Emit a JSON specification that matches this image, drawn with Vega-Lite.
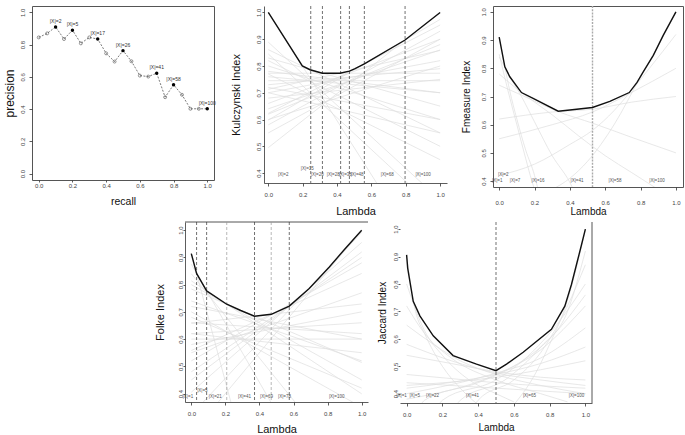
{
"$schema":"https://vega.github.io/schema/vega-lite/v6.json",
"padding":{"left":2,"top":4,"right":0,"bottom":0},
"background":"white",
"config":{"font":"Liberation Sans","view":{"stroke":null},
 "axis":{"labelFont":"Liberation Sans","titleFont":"Liberation Sans","titleFontWeight":"normal","labelFontSize":6,"labelColor":"#444","tickColor":"#333","domainColor":"#333","domainWidth":0.8,"tickWidth":0.8,"grid":false,"titleColor":"#111","labelFlush":false,"labelOverlap":false},
 "text":{"font":"Liberation Sans"}},
"datasets":{
 "pr":[{"recall":0,"precision":0.845,"f":false,"t":""},{"recall":0.05,"precision":0.87,"f":false,"t":""},{"recall":0.1,"precision":0.91,"f":true,"t":"|X|=2"},{"recall":0.15,"precision":0.835,"f":false,"t":""},{"recall":0.2,"precision":0.89,"f":true,"t":"|X|=5"},{"recall":0.25,"precision":0.808,"f":false,"t":""},{"recall":0.3,"precision":0.845,"f":false,"t":""},{"recall":0.35,"precision":0.835,"f":true,"t":"|X|=17"},{"recall":0.4,"precision":0.746,"f":false,"t":""},{"recall":0.45,"precision":0.695,"f":false,"t":""},{"recall":0.5,"precision":0.763,"f":true,"t":"|X|=26"},{"recall":0.55,"precision":0.697,"f":false,"t":""},{"recall":0.6,"precision":0.608,"f":false,"t":""},{"recall":0.65,"precision":0.602,"f":false,"t":""},{"recall":0.7,"precision":0.623,"f":true,"t":"|X|=41"},{"recall":0.75,"precision":0.474,"f":false,"t":""},{"recall":0.8,"precision":0.551,"f":true,"t":"|X|=58"},{"recall":0.85,"precision":0.489,"f":false,"t":""},{"recall":0.9,"precision":0.402,"f":false,"t":""},{"recall":0.95,"precision":0.402,"f":false,"t":""},{"recall":1.0,"precision":0.402,"f":true,"t":"|X|=100"}],
 "kul_grey":[{"id":1,"l":0,"v":1.0},{"id":1,"l":1,"v":-0.01},{"id":2,"l":0,"v":0.861},{"id":2,"l":1,"v":0.55},{"id":3,"l":0,"v":0.83},{"id":3,"l":1,"v":0.65},{"id":4,"l":0,"v":0.773},{"id":4,"l":1,"v":0.773},{"id":5,"l":0,"v":0.713},{"id":5,"l":1,"v":0.858},{"id":6,"l":0,"v":0.623},{"id":6,"l":1,"v":0.953},{"id":7,"l":0,"v":0.598},{"id":7,"l":1,"v":0.974},{"id":8,"l":0,"v":0.495},{"id":8,"l":1,"v":1.0},{"id":9,"l":0,"v":0.889},{"id":9,"l":1,"v":0.30},{"id":10,"l":0,"v":0.845},{"id":10,"l":1,"v":0.25},{"id":11,"l":0,"v":0.82},{"id":11,"l":1,"v":0.5},{"id":12,"l":0,"v":0.80},{"id":12,"l":1,"v":0.6},{"id":13,"l":0,"v":0.76},{"id":13,"l":1,"v":0.70},{"id":14,"l":0,"v":0.745},{"id":14,"l":1,"v":0.745},{"id":15,"l":0,"v":0.73},{"id":15,"l":1,"v":0.79},{"id":16,"l":0,"v":0.70},{"id":16,"l":1,"v":0.82},{"id":17,"l":0,"v":0.68},{"id":17,"l":1,"v":0.75},{"id":18,"l":0,"v":0.66},{"id":18,"l":1,"v":0.90},{"id":19,"l":0,"v":0.64},{"id":19,"l":1,"v":0.86},{"id":20,"l":0,"v":0.58},{"id":20,"l":1,"v":0.93},{"id":21,"l":0,"v":0.55},{"id":21,"l":1,"v":0.90},{"id":22,"l":0,"v":0.77},{"id":22,"l":1,"v":0.45},{"id":23,"l":0,"v":0.72},{"id":23,"l":1,"v":0.60},{"id":24,"l":0,"v":0.78},{"id":24,"l":1,"v":0.70},{"id":25,"l":0,"v":0.70},{"id":25,"l":1,"v":0.55},{"id":26,"l":0,"v":0.62},{"id":26,"l":1,"v":0.88},{"id":27,"l":0,"v":0.60},{"id":27,"l":1,"v":0.80}],
 "kul_black":[{"l":0,"v":1.0},{"l":0.198,"v":0.80},{"l":0.243,"v":0.786},{"l":0.315,"v":0.773},{"l":0.417,"v":0.773},{"l":0.472,"v":0.781},{"l":0.505,"v":0.79},{"l":0.559,"v":0.808},{"l":0.796,"v":0.897},{"l":1.0,"v":1.0}],
 "kul_v":[{"l":0.247},{"l":0.315},{"l":0.421},{"l":0.472},{"l":0.559},{"l":0.796}],
 "kul_lab":[{"l":0.087,"v":0.392,"t":"|X|=2"},{"l":0.227,"v":0.415,"t":"|X|=15"},{"l":0.285,"v":0.392,"t":"|X|=20"},{"l":0.378,"v":0.392,"t":"|X|=28"},{"l":0.448,"v":0.392,"t":"|X|=38"},{"l":0.517,"v":0.392,"t":"|X|=48"},{"l":0.692,"v":0.392,"t":"|X|=68"},{"l":0.901,"v":0.392,"t":"|X|=100"}],
 "fm_grey":[{"id":0,"l":0,"v":0.911},{"id":0,"l":0.032,"v":0.805},{"id":0,"l":0.06,"v":0.72},{"id":0,"l":0.1,"v":0.62},{"id":0,"l":0.15,"v":0.51},{"id":0,"l":0.2,"v":0.42},{"id":0,"l":0.22,"v":0.37},
  {"id":1,"l":0,"v":0.85},{"id":1,"l":0.05,"v":0.72},{"id":1,"l":0.1,"v":0.60},{"id":1,"l":0.15,"v":0.48},{"id":1,"l":0.185,"v":0.40},{"id":1,"l":0.2,"v":0.37},
  {"id":2,"l":0,"v":0.84},{"id":2,"l":0.032,"v":0.805},{"id":2,"l":0.08,"v":0.75},{"id":2,"l":0.126,"v":0.70},{"id":2,"l":0.2,"v":0.61},{"id":2,"l":0.3,"v":0.49},{"id":2,"l":0.4,"v":0.395},{"id":2,"l":0.42,"v":0.37},
  {"id":3,"l":0,"v":0.78},{"id":3,"l":0.126,"v":0.714},{"id":3,"l":0.2,"v":0.68},{"id":3,"l":0.3,"v":0.635},{"id":3,"l":0.45,"v":0.56},{"id":3,"l":0.6,"v":0.49},{"id":3,"l":0.75,"v":0.43},{"id":3,"l":0.85,"v":0.39},{"id":3,"l":0.9,"v":0.37},
  {"id":4,"l":0,"v":0.74},{"id":4,"l":0.126,"v":0.705},{"id":4,"l":0.34,"v":0.645},{"id":4,"l":0.53,"v":0.605},{"id":4,"l":0.75,"v":0.555},{"id":4,"l":1,"v":0.50},
  {"id":5,"l":0,"v":0.62},{"id":5,"l":0.3,"v":0.645},{"id":5,"l":0.528,"v":0.655},{"id":5,"l":0.75,"v":0.68},{"id":5,"l":1,"v":0.70},
  {"id":6,"l":0,"v":0.55},{"id":6,"l":0.3,"v":0.60},{"id":6,"l":0.528,"v":0.645},{"id":6,"l":0.736,"v":0.71},{"id":6,"l":1,"v":0.80},
  {"id":7,"l":0,"v":0.42},{"id":7,"l":0.2,"v":0.46},{"id":7,"l":0.4,"v":0.53},{"id":7,"l":0.528,"v":0.58},{"id":7,"l":0.65,"v":0.65},{"id":7,"l":0.736,"v":0.712},{"id":7,"l":0.85,"v":0.80},{"id":7,"l":1,"v":0.92},
  {"id":8,"l":0.3,"v":0.37},{"id":8,"l":0.4,"v":0.41},{"id":8,"l":0.5,"v":0.47},{"id":8,"l":0.65,"v":0.60},{"id":8,"l":0.8,"v":0.77},{"id":8,"l":0.9,"v":0.88},{"id":8,"l":1,"v":1.0}],
 "fm_black":[{"l":0,"v":0.911},{"l":0.032,"v":0.805},{"l":0.06,"v":0.77},{"l":0.126,"v":0.714},{"l":0.192,"v":0.693},{"l":0.334,"v":0.648},{"l":0.4,"v":0.652},{"l":0.528,"v":0.661},{"l":0.626,"v":0.683},{"l":0.736,"v":0.714},{"l":0.78,"v":0.75},{"l":0.815,"v":0.787},{"l":0.872,"v":0.846},{"l":0.928,"v":0.917},{"l":1.0,"v":1.0}],
 "fm_v":[{"l":0.528}],
 "fm_lab":[{"l":-0.011,"v":0.40,"t":"|X|=1"},{"l":0.023,"v":0.42,"t":"|X|=2"},{"l":0.09,"v":0.40,"t":"|X|=7"},{"l":0.22,"v":0.40,"t":"|X|=16"},{"l":0.44,"v":0.40,"t":"|X|=41"},{"l":0.655,"v":0.40,"t":"|X|=58"},{"l":0.893,"v":0.40,"t":"|X|=100"}],
 "fo_grey":[{"id":1,"l":0,"v":0.914},{"id":1,"l":0.24,"v":0.35},{"id":2,"l":0,"v":0.875},{"id":2,"l":0.48,"v":0.354},{"id":3,"l":0,"v":0.814},{"id":3,"l":1,"v":0.399},{"id":4,"l":0,"v":0.784},{"id":4,"l":1,"v":0.514},{"id":5,"l":0,"v":0.658},{"id":5,"l":1,"v":0.729},{"id":6,"l":0,"v":0.558},{"id":6,"l":1,"v":0.841},{"id":7,"l":0,"v":0.405},{"id":7,"l":1,"v":0.955},{"id":8,"l":0,"v":0.322},{"id":8,"l":1,"v":0.992},{"id":9,"l":0,"v":0.25},{"id":9,"l":1,"v":1.0},{"id":10,"l":0,"v":0.84},{"id":10,"l":0.62,"v":0.36},{"id":11,"l":0,"v":0.80},{"id":11,"l":1,"v":0.45},{"id":12,"l":0,"v":0.74},{"id":12,"l":1,"v":0.52},{"id":13,"l":0,"v":0.72},{"id":13,"l":1,"v":0.60},{"id":14,"l":0,"v":0.68},{"id":14,"l":1,"v":0.42},{"id":15,"l":0,"v":0.66},{"id":15,"l":1,"v":0.62},{"id":16,"l":0,"v":0.62},{"id":16,"l":1,"v":0.66},{"id":17,"l":0,"v":0.60},{"id":17,"l":1,"v":0.60},{"id":18,"l":0,"v":0.55},{"id":18,"l":1,"v":0.77},{"id":19,"l":0,"v":0.52},{"id":19,"l":1,"v":0.88},{"id":20,"l":0,"v":0.48},{"id":20,"l":1,"v":0.90},{"id":21,"l":0,"v":0.45},{"id":21,"l":1,"v":0.92},{"id":22,"l":0,"v":0.62},{"id":22,"l":1,"v":0.55},{"id":23,"l":0,"v":0.70},{"id":23,"l":1,"v":0.35},{"id":24,"l":0,"v":0.58},{"id":24,"l":1,"v":0.70}],
 "fo_black":[{"l":0,"v":0.914},{"l":0.031,"v":0.841},{"l":0.09,"v":0.777},{"l":0.208,"v":0.728},{"l":0.29,"v":0.705},{"l":0.371,"v":0.684},{"l":0.469,"v":0.691},{"l":0.575,"v":0.721},{"l":0.692,"v":0.786},{"l":0.81,"v":0.865},{"l":0.9,"v":0.93},{"l":1.0,"v":1.0}],
 "fo_vb":[{"l":0.031},{"l":0.09},{"l":0.371},{"l":0.575}],
 "fo_vg":[{"l":0.208},{"l":0.469}],
 "fo_lab":[{"l":-0.02,"v":0.389,"t":"|X|=1"},{"l":0.065,"v":0.411,"t":"|X|=5"},{"l":0.141,"v":0.389,"t":"|X|=21"},{"l":0.312,"v":0.389,"t":"|X|=41"},{"l":0.441,"v":0.389,"t":"|X|=69"},{"l":0.547,"v":0.389,"t":"|X|=78"},{"l":0.853,"v":0.389,"t":"|X|=100"}],
 "ja_grey":[{"id":1,"l":0,"v":0.90},{"id":1,"l":0.05,"v":0.70},{"id":1,"l":0.1,"v":0.62},{"id":1,"l":0.2,"v":0.5},{"id":1,"l":0.3,"v":0.42},{"id":1,"l":0.37,"v":0.376},{"id":1,"l":0.4,"v":0.36},
  {"id":2,"l":0,"v":0.80},{"id":2,"l":0.1,"v":0.63},{"id":2,"l":0.2,"v":0.54},{"id":2,"l":0.35,"v":0.45},{"id":2,"l":0.5,"v":0.40},{"id":2,"l":0.6,"v":0.37},
  {"id":3,"l":0,"v":0.72},{"id":3,"l":0.1,"v":0.62},{"id":3,"l":0.25,"v":0.53},{"id":3,"l":0.5,"v":0.45},{"id":3,"l":0.75,"v":0.40},{"id":3,"l":0.9,"v":0.37},
  {"id":4,"l":0,"v":0.65},{"id":4,"l":0.15,"v":0.58},{"id":4,"l":0.3,"v":0.52},{"id":4,"l":0.5,"v":0.47},{"id":4,"l":0.75,"v":0.43},{"id":4,"l":1,"v":0.40},
  {"id":5,"l":0,"v":0.58},{"id":5,"l":0.25,"v":0.52},{"id":5,"l":0.5,"v":0.475},{"id":5,"l":0.75,"v":0.45},{"id":5,"l":1,"v":0.43},
  {"id":6,"l":0,"v":0.54},{"id":6,"l":0.25,"v":0.51},{"id":6,"l":0.5,"v":0.48},{"id":6,"l":0.75,"v":0.46},{"id":6,"l":1,"v":0.45},
  {"id":7,"l":0,"v":0.47},{"id":7,"l":0.25,"v":0.455},{"id":7,"l":0.5,"v":0.44},{"id":7,"l":1,"v":0.42},
  {"id":8,"l":0,"v":0.44},{"id":8,"l":0.5,"v":0.42},{"id":8,"l":1,"v":0.40},
  {"id":9,"l":0.6,"v":0.36},{"id":9,"l":0.62,"v":0.376},{"id":9,"l":0.7,"v":0.45},{"id":9,"l":0.8,"v":0.58},{"id":9,"l":0.9,"v":0.74},{"id":9,"l":0.95,"v":0.86},{"id":9,"l":1,"v":1.0},
  {"id":10,"l":0.38,"v":0.36},{"id":10,"l":0.4,"v":0.376},{"id":10,"l":0.6,"v":0.45},{"id":10,"l":0.75,"v":0.55},{"id":10,"l":0.9,"v":0.72},{"id":10,"l":1,"v":0.87},
  {"id":11,"l":0.18,"v":0.36},{"id":11,"l":0.2,"v":0.376},{"id":11,"l":0.5,"v":0.45},{"id":11,"l":0.7,"v":0.55},{"id":11,"l":0.85,"v":0.66},{"id":11,"l":1,"v":0.80},
  {"id":12,"l":0,"v":0.38},{"id":12,"l":0.5,"v":0.47},{"id":12,"l":0.75,"v":0.56},{"id":12,"l":1,"v":0.72},
  {"id":13,"l":0,"v":0.40},{"id":13,"l":0.5,"v":0.475},{"id":13,"l":0.75,"v":0.53},{"id":13,"l":1,"v":0.64},
  {"id":14,"l":0,"v":0.42},{"id":14,"l":0.5,"v":0.47},{"id":14,"l":0.75,"v":0.51},{"id":14,"l":1,"v":0.57},
  {"id":15,"l":0,"v":0.43},{"id":15,"l":0.5,"v":0.46},{"id":15,"l":1,"v":0.52},
  {"id":16,"l":0.08,"v":0.36},{"id":16,"l":0.1,"v":0.376},{"id":16,"l":0.4,"v":0.44},{"id":16,"l":0.6,"v":0.5},{"id":16,"l":0.8,"v":0.6},{"id":16,"l":1,"v":0.76},
  {"id":17,"l":0.28,"v":0.36},{"id":17,"l":0.3,"v":0.376},{"id":17,"l":0.55,"v":0.45},{"id":17,"l":0.75,"v":0.57},{"id":17,"l":0.9,"v":0.70},{"id":17,"l":1,"v":0.92}],
 "ja_black":[{"l":0,"v":0.906},{"l":0.006,"v":0.858},{"l":0.015,"v":0.822},{"l":0.037,"v":0.737},{"l":0.075,"v":0.683},{"l":0.149,"v":0.611},{"l":0.26,"v":0.539},{"l":0.391,"v":0.508},{"l":0.5,"v":0.484},{"l":0.559,"v":0.508},{"l":0.652,"v":0.551},{"l":0.81,"v":0.635},{"l":0.885,"v":0.719},{"l":0.922,"v":0.798},{"l":0.95,"v":0.87},{"l":0.978,"v":0.942},{"l":1.0,"v":1.0}],
 "ja_v":[{"l":0.5}],
 "ja_lab":[{"l":-0.028,"v":0.393,"t":"|X|=1"},{"l":0.045,"v":0.393,"t":"|X|=5"},{"l":0.145,"v":0.393,"t":"|X|=22"},{"l":0.369,"v":0.393,"t":"|X|=41"},{"l":0.687,"v":0.393,"t":"|X|=65"},{"l":0.95,"v":0.393,"t":"|X|=100"}]
},
"vconcat":[
 {"hconcat":[
  {"width":182,"height":174,"view":{"stroke":"#555","strokeWidth":1},"data":{"name":"pr"},
   "layer":[
    {"mark":{"type":"line","color":"#222","strokeWidth":0.6,"strokeDash":[2,1.5]},
     "encoding":{
      "x":{"field":"recall","type":"quantitative","scale":{"domain":[-0.04,1.04],"nice":false,"zero":false},"axis":{"title":"recall","tickCount":5,"format":".1f","domain":false,"tickSize":2,"labelPadding":0,"titlePadding":8,"titleFontSize":10.5,"labelOverlap":false}},
      "y":{"field":"precision","type":"quantitative","scale":{"domain":[-0.04,1.04],"nice":false,"zero":false},"axis":{"title":"precision","tickCount":5,"format":".1f","domain":false,"labelAngle":270,"labelAlign":"center","labelBaseline":"bottom","tickSize":3,"labelPadding":4,"titlePadding":3,"titleFontSize":12,"labelOverlap":false}}}},
    {"transform":[{"filter":"!datum.f"}],"mark":{"type":"point","filled":false,"color":"#333","size":9,"strokeWidth":0.5,"opacity":1},
     "encoding":{"x":{"field":"recall","type":"quantitative"},"y":{"field":"precision","type":"quantitative"}}},
    {"transform":[{"filter":"datum.f"}],"mark":{"type":"circle","color":"#000","size":12,"opacity":1},
     "encoding":{"x":{"field":"recall","type":"quantitative"},"y":{"field":"precision","type":"quantitative"}}},
    {"transform":[{"filter":"datum.f"}],"mark":{"type":"text","fontSize":5,"dy":-6,"color":"#333"},
     "encoding":{"x":{"field":"recall","type":"quantitative"},"y":{"field":"precision","type":"quantitative"},"text":{"field":"t"}}}
   ]},
  {"width":183,"height":177,
   "layer":[
    {"data":{"name":"kul_grey"},"mark":{"type":"line","clip":true,"color":"#dedede","strokeWidth":0.7},
     "encoding":{
      "x":{"field":"l","type":"quantitative","scale":{"domain":[-0.025,1.04],"nice":false,"zero":false},"axis":{"title":"Lambda","tickCount":5,"format":".1f","tickSize":3,"labelPadding":5,"titlePadding":8,"titleFontSize":11,"labelOverlap":false}},
      "y":{"field":"v","type":"quantitative","scale":{"domain":[0.363,1.024],"nice":false,"zero":false},"axis":{"title":"Kulczynski Index","tickCount":6,"format":".1f","labelAngle":270,"labelAlign":"center","labelBaseline":"bottom","tickSize":2,"labelPadding":1,"titlePadding":14,"titleFontSize":11,"labelOverlap":false}},
      "detail":{"field":"id","type":"nominal"}}},
    {"data":{"name":"kul_v"},"mark":{"type":"rule","color":"#333","strokeDash":[3,2],"strokeWidth":0.7},
     "encoding":{"x":{"field":"l","type":"quantitative"}}},
    {"data":{"name":"kul_black"},"mark":{"type":"line","color":"#111","strokeWidth":1.4},
     "encoding":{"x":{"field":"l","type":"quantitative"},"y":{"field":"v","type":"quantitative"}}},
    {"data":{"name":"kul_lab"},"mark":{"type":"text","fontSize":4.5,"color":"#555"},
     "encoding":{"x":{"field":"l","type":"quantitative"},"y":{"field":"v","type":"quantitative"},"text":{"field":"t"}}}
   ]},
  {"width":190,"height":181,"view":{"stroke":"#555","strokeWidth":1},
   "layer":[
    {"data":{"name":"fm_grey"},"mark":{"type":"line","clip":true,"color":"#dedede","strokeWidth":0.7,"interpolate":"monotone"},
     "encoding":{
      "x":{"field":"l","type":"quantitative","scale":{"domain":[-0.035,1.04],"nice":false,"zero":false},"axis":{"title":"Lambda","tickCount":5,"format":".1f","domain":false,"tickSize":3,"labelPadding":9,"titlePadding":1,"titleFontSize":10,"labelOverlap":false}},
      "y":{"field":"v","type":"quantitative","scale":{"domain":[0.379,1.021],"nice":false,"zero":false},"axis":{"title":"Fmeasure Index","tickCount":6,"format":".1f","domain":false,"labelAngle":270,"labelAlign":"center","labelBaseline":"bottom","tickSize":3,"labelPadding":4,"titlePadding":9,"titleFontSize":10,"labelOverlap":false}},
      "detail":{"field":"id","type":"nominal"}}},
    {"data":{"name":"fm_v"},"mark":{"type":"rule","color":"#aaaaaa","strokeDash":[2,1.2],"strokeWidth":1.4},
     "encoding":{"x":{"field":"l","type":"quantitative"}}},
    {"data":{"name":"fm_black"},"mark":{"type":"line","color":"#111","strokeWidth":1.4},
     "encoding":{"x":{"field":"l","type":"quantitative"},"y":{"field":"v","type":"quantitative"}}},
    {"data":{"name":"fm_lab"},"mark":{"type":"text","fontSize":4.5,"color":"#555"},
     "encoding":{"x":{"field":"l","type":"quantitative"},"y":{"field":"v","type":"quantitative"},"text":{"field":"t"}}}
   ]}
 ],"spacing":13,"align":"each"},
 {"hconcat":[
  {"width":114,"height":10,"data":{"values":[{}]},"mark":{"type":"point","opacity":0}},
  {"width":183,"height":180,
   "layer":[
    {"data":{"name":"fo_grey"},"mark":{"type":"line","clip":true,"color":"#dedede","strokeWidth":0.7},
     "encoding":{
      "x":{"field":"l","type":"quantitative","scale":{"domain":[-0.037,1.037],"nice":false,"zero":false},"axis":{"title":"Lambda","tickCount":5,"format":".1f","tickSize":3,"labelPadding":5,"titlePadding":7,"titleFontSize":11,"labelOverlap":false}},
      "y":{"field":"v","type":"quantitative","scale":{"domain":[0.369,1.03],"nice":false,"zero":false},"axis":{"title":"Folke Index","tickCount":6,"format":".1f","labelAngle":270,"labelAlign":"center","labelBaseline":"bottom","tickSize":2,"labelPadding":0,"titlePadding":12,"titleFontSize":11,"labelOverlap":false}},
      "detail":{"field":"id","type":"nominal"}}},
    {"data":{"values":[{}]},"mark":{"type":"rule","color":"#555","strokeWidth":1},"encoding":{"y":{"datum":1.03}}},
    {"data":{"name":"fo_vg"},"mark":{"type":"rule","color":"#999","strokeDash":[3,2],"strokeWidth":0.7},
     "encoding":{"x":{"field":"l","type":"quantitative"}}},
    {"data":{"name":"fo_vb"},"mark":{"type":"rule","color":"#333","strokeDash":[3,2],"strokeWidth":0.7},
     "encoding":{"x":{"field":"l","type":"quantitative"}}},
    {"data":{"name":"fo_black"},"mark":{"type":"line","color":"#111","strokeWidth":1.4},
     "encoding":{"x":{"field":"l","type":"quantitative"},"y":{"field":"v","type":"quantitative"}}},
    {"data":{"name":"fo_lab"},"mark":{"type":"text","fontSize":4.5,"color":"#555"},
     "encoding":{"x":{"field":"l","type":"quantitative"},"y":{"field":"v","type":"quantitative"},"text":{"field":"t"}}}
   ]},
  {"width":192,"height":181,
   "layer":[
    {"data":{"name":"ja_grey"},"mark":{"type":"line","clip":true,"color":"#dedede","strokeWidth":0.7,"interpolate":"monotone"},
     "encoding":{
      "x":{"field":"l","type":"quantitative","scale":{"domain":[-0.037,1.037],"nice":false,"zero":false},"axis":{"title":"Lambda","tickCount":5,"format":".1f","tickSize":3,"labelPadding":5,"titlePadding":5,"titleFontSize":10,"labelOverlap":false}},
      "y":{"field":"v","type":"quantitative","scale":{"domain":[0.366,1.026],"nice":false,"zero":false},"axis":{"title":"Jaccard Index","tickCount":6,"format":".1f","domain":false,"labelAngle":270,"labelAlign":"center","labelBaseline":"bottom","tickSize":2,"labelPadding":0,"titlePadding":5,"titleFontSize":10,"labelOverlap":false}},
      "detail":{"field":"id","type":"nominal"}}},
    {"data":{"values":[{}]},"mark":{"type":"rule","color":"#555","strokeWidth":1},"encoding":{"x":{"datum":1.037}}},
    {"data":{"name":"ja_v"},"mark":{"type":"rule","color":"#333","strokeDash":[3,2],"strokeWidth":0.7},
     "encoding":{"x":{"field":"l","type":"quantitative"}}},
    {"data":{"name":"ja_black"},"mark":{"type":"line","color":"#111","strokeWidth":1.4},
     "encoding":{"x":{"field":"l","type":"quantitative"},"y":{"field":"v","type":"quantitative"}}},
    {"data":{"name":"ja_lab"},"mark":{"type":"text","fontSize":4.5,"color":"#555"},
     "encoding":{"x":{"field":"l","type":"quantitative"},"y":{"field":"v","type":"quantitative"},"text":{"field":"t"}}}
   ]}
 ],"spacing":8,"align":"each"}
],"spacing":4
}
